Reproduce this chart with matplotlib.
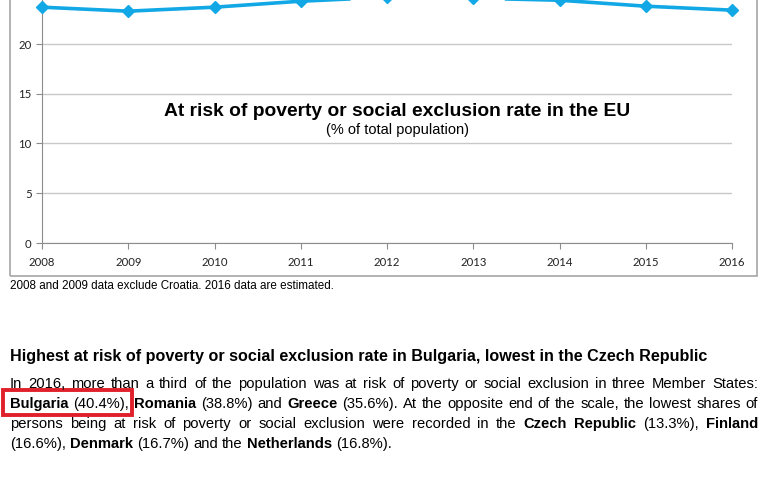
import matplotlib
matplotlib.use("Agg")
import matplotlib.pyplot as plt
from matplotlib.patches import Rectangle

W, H = 774, 490

years = [2008, 2009, 2010, 2011, 2012, 2013, 2014, 2015, 2016]
rate = [23.7, 23.3, 23.7, 24.3, 24.7, 24.6, 24.4, 23.8, 23.4]
yticks = [0, 5, 10, 15, 20]

chart_title = "At risk of poverty or social exclusion rate in the EU"
chart_sub = "(% of total population)"
note = "2008 and 2009 data exclude Croatia. 2016 data are estimated."
heading = "Highest at risk of poverty or social exclusion rate in Bulgaria, lowest in the Czech Republic"
para_lines = [
    "In 2016, more than a third of the population was at risk of poverty or social exclusion in three Member States:",
    "**Bulgaria** (40.4%), **Romania** (38.8%) and **Greece** (35.6%). At the opposite end of the scale, the lowest shares of",
    "persons being at risk of poverty or social exclusion were recorded in the **Czech** **Republic** (13.3%), **Finland**",
    "(16.6%), **Denmark** (16.7%) and the **Netherlands** (16.8%).",
]

plt.rcParams['font.family'] = ['Liberation Sans', 'DejaVu Sans']

fig = plt.figure(figsize=(W / 100, H / 100), dpi=100)


def fx(px):
    return px / W


def fy(py):
    return 1 - py / H


# chart frame (top is cut off in the reference)
fig.patches.append(Rectangle((fx(10), fy(276)), fx(747), 0.7, transform=fig.transFigure,
                             fill=False, edgecolor='#a6a6a6', lw=1.2, clip_on=False))

# axes: y=0 at px 243, y=20 at px 44, 2008 at px 42, 2016 at px 732
unit = (243 - 44) / 20.0
ax = fig.add_axes([fx(42), fy(243), fx(732 - 42), 30 * unit / H])
ax.plot(years, rate, color='#12a8e6', lw=2.6, marker='D', ms=6, clip_on=False, zorder=3)
ax.set_xlim(2008, 2016)
ax.set_ylim(0, 30)
ax.set_xticks(years)
ax.set_yticks(yticks)
ax.grid(axis='y', color='#c8c8c8', lw=1)
ax.axhline(25, color='#c8c8c8', lw=1, zorder=0)
ax.set_axisbelow(True)
for s in ['top', 'right']:
    ax.spines[s].set_visible(False)
for s in ['left', 'bottom']:
    ax.spines[s].set_color('#8c8c8c')
ax.tick_params(axis='both', colors='#8c8c8c', labelcolor='#222222', labelsize=8.2, length=4)
ax.tick_params(axis='x', pad=6)
for lab in ax.get_xticklabels() + ax.get_yticklabels():
    lab.set_family(['Lato', 'DejaVu Sans'])

fig.text(fx(397), fy(111), chart_title, ha='center', va='center', fontsize=13.9, weight='bold')
fig.text(fx(398), fy(130), chart_sub, ha='center', va='center', fontsize=10.5)
fig.text(fx(10), fy(286), note, ha='left', va='center', fontsize=8.4)

fig.text(fx(10), fy(357), heading, ha='left', va='center', fontsize=11.6, weight='bold')

renderer = fig.canvas.get_renderer()


def width_px(s, bold, size):
    t = fig.text(0, 0, s, fontsize=size, weight='bold' if bold else 'normal')
    w = t.get_window_extent(renderer).width
    t.remove()
    return w


def draw_line(line, ypx, x0, x1, size, justify):
    words = []
    for w in line.split(' '):
        if w.startswith('**') and w.endswith('**'):
            words.append((w[2:-2], True))
        else:
            words.append((w, False))
    widths = [width_px(w, b, size) for w, b in words]
    if justify and len(words) > 1:
        gap = (x1 - x0 - sum(widths)) / (len(words) - 1)
    else:
        gap = width_px('a b', False, size) - width_px('ab', False, size)
    x = x0
    for (w, b), wd in zip(words, widths):
        fig.text(fx(x), fy(ypx), w, ha='left', va='center', fontsize=size,
                 weight='bold' if b else 'normal')
        x += wd + gap


line_y = [384, 404, 424, 444]
for i, (ln, yy) in enumerate(zip(para_lines, line_y)):
    draw_line(ln, yy, 10, 758, 10.6, i < len(para_lines) - 1)

# red highlight box around Bulgaria
fig.patches.append(Rectangle((fx(3), fy(415)), fx(129), 25 / H, transform=fig.transFigure,
                             fill=False, edgecolor='#e0202a', lw=2.8))

fig.savefig("out.png", dpi=100)
